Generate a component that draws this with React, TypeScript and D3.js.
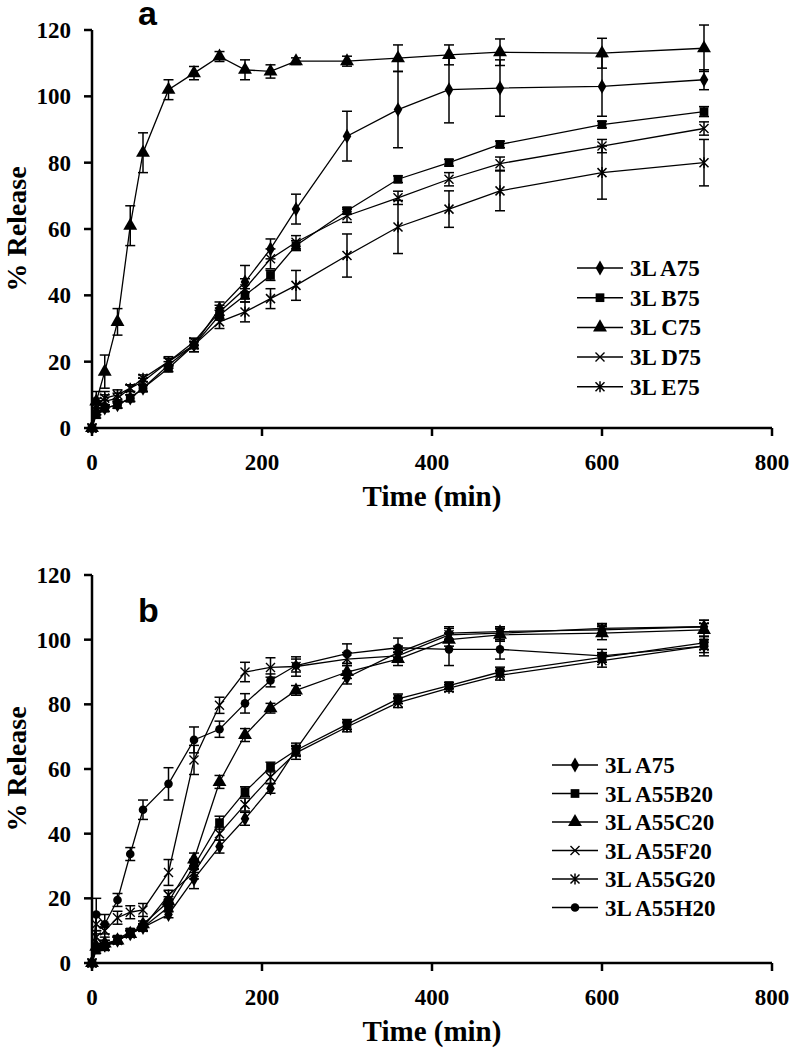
import React from "react";
import * as d3 from "d3";

// ---------- data ----------
const times = [0, 5, 15, 30, 45, 60, 90, 120, 150, 180, 210, 240, 300, 360, 420, 480, 600, 720];
const xTicks = [0, 200, 400, 600, 800];
const yTicks = [0, 20, 40, 60, 80, 100, 120];

// Panel a
const aNames = ["3L A75", "3L B75", "3L C75", "3L D75", "3L E75"];
const aMarkers = ["diamond", "square", "triangle", "x", "asterisk"];
const aA75 = [0, 5, 6, 7, 9, 12, 19, 25, 36, 44, 54, 66, 88, 96, 102, 102.5, 103, 105];
const aA75err = [0, 1, 1, 1, 1, 1, 1, 2, 2, 5, 3, 4.5, 7.5, 11.5, 10, 8.5, 9, 3];
const aB75 = [0, 4, 6, 7, 9, 12, 18, 25, 34, 40, 46, 55, 65.5, 75, 80, 85.5, 91.5, 95.4];
const aB75err = [0, 1, 1, 1, 1, 1, 1, 1, 1.5, 2, 1.5, 1.5, 1, 1, 1, 1, 1, 1.5];
const aC75 = [0, 8, 17, 32, 61, 83, 102, 107, 112, 108, 107.5, 110.6, 110.6, 111.5, 112.5, 113.3, 113, 114.5];
const aC75err = [0, 3, 5, 4, 6, 6, 3, 2, 1.5, 3, 2, 1, 1.5, 4, 3, 4, 4.5, 7];
const aD75 = [0, 6, 8, 9, 12, 14, 20, 26, 35, 42, 51, 56, 64, 69.4, 75, 79.7, 85, 90.3];
const aD75err = [0, 2, 2, 1.5, 1, 1, 1, 1, 2, 3, 3, 2, 2, 2, 2, 2, 2, 2];
const aE75 = [0, 7, 9, 10, 12, 15, 20, 25, 32, 35, 39, 43, 52, 60.6, 66, 71.5, 77, 80];
const aE75err = [0, 2, 2, 1.5, 1, 1, 1.5, 2, 2, 3, 3, 4.5, 6.5, 8, 5.5, 6, 8, 7];

// Panel b
const bNames = ["3L A75", "3L A55B20", "3L A55C20", "3L A55F20", "3L A55G20", "3L A55H20"];
const bMarkers = ["diamond", "square", "triangle", "x", "asterisk", "circle"];
const bA75 = [0, 5, 6, 7, 9, 11, 15, 26, 36, 44.6, 54, 66, 88.3, 96, 102, 102.5, 103, 104];
const bA75err = [0, 1, 1, 1, 1, 1, 1, 3, 2, 2, 1.5, 2, 2, 2, 2, 1.5, 1.5, 2];
const bB20 = [0, 4, 5, 7.4, 9.6, 11, 17.3, 30, 43.4, 53, 60.6, 65.8, 73.8, 81.7, 85.8, 90, 94.5, 99];
const bB20err = [0, 1, 1, 1, 1, 1, 1.5, 2, 2, 1.5, 1.5, 1.5, 1.5, 1.5, 1, 1.5, 1.5, 2];
const bC20 = [0, 5, 6, 7, 9, 12, 19, 32, 56, 70.5, 78.8, 84.3, 90, 94, 100, 101.5, 102, 103];
const bC20err = [0, 1, 1, 1, 1, 1, 1.5, 2, 2, 2, 1.5, 1.5, 2, 2, 2, 2, 2, 2];
const bF20 = [0, 12, 10, 14, 15.7, 16.4, 28, 62.8, 79.7, 90, 91.4, 91.7, 94, 95, 101.5, 102, 103.5, 104];
const bF20err = [0, 3, 2, 2, 2, 2, 4, 4.5, 2.5, 3, 3, 3, 2, 2, 2, 2, 1.5, 2];
const bG20 = [0, 8, 5, 7, 9, 11, 21, 28, 40, 49, 57.5, 65, 73, 80.5, 85, 89, 93.5, 98];
const bG20err = [0, 2, 1, 1, 1, 1, 1.5, 2, 2, 2, 2, 2, 1.5, 1.5, 1, 1.5, 2, 2];
const bH20 = [0, 15, 12, 19.5, 33.7, 47.4, 55.4, 69, 72.3, 80.3, 87.4, 92, 95.7, 97.5, 97, 97, 95, 98];
const bH20err = [0, 5, 3, 2, 2, 3, 5, 4, 2.5, 3, 2, 2, 3, 3, 5, 3, 2, 3];

const aSeries = [
  [aA75, aA75err], [aB75, aB75err], [aC75, aC75err], [aD75, aD75err], [aE75, aE75err],
];
const bSeries = [
  [bA75, bA75err], [bB20, bB20err], [bC20, bC20err], [bF20, bF20err], [bG20, bG20err], [bH20, bH20err],
];

const SERIF = "'Liberation Serif', 'Times New Roman', serif";
const SANS = "'Liberation Sans', Arial, sans-serif";

function Marker({ type, x, y }: { type: string; x: number; y: number }) {
  const t = `translate(${x},${y})`;
  if (type === "x") {
    const s = 4.5;
    return (
      <path transform={t} d={`M${-s},${-s}L${s},${s}M${-s},${s}L${s},${-s}`} stroke="#000" strokeWidth={1.4} fill="none" />
    );
  }
  if (type === "asterisk") {
    const s = 4.5;
    return (
      <path transform={t} d={`M${-s},${-s}L${s},${s}M${-s},${s}L${s},${-s}M0,${-s - 1}L0,${s + 1}`} stroke="#000" strokeWidth={1.5} fill="none" />
    );
  }
  const symMap: Record<string, [d3.SymbolType, number]> = {
    diamond: [d3.symbolDiamond, 64],
    square: [d3.symbolSquare, 76],
    triangle: [d3.symbolTriangle, 84],
    circle: [d3.symbolCircle, 58],
  };
  const [sym, size] = symMap[type];
  const d = d3.symbol().type(sym).size(size)() as string;
  return <path transform={t} d={d} fill="#000" stroke="none" />;
}

function Panel({
  series, markers, names, y0, y120, letter, letterY, legendX, legendY, legendStep, xLabelY,
}: {
  series: number[][][]; markers: string[]; names: string[]; y0: number; y120: number;
  letter: string; letterY: number; legendX: number; legendY: number; legendStep: number; xLabelY: number;
}) {
  const x = d3.scaleLinear().domain([0, 800]).range([92, 772]);
  const y = d3.scaleLinear().domain([0, 120]).range([y0, y120]);
  const line = d3.line<number>().x((_, i) => x(times[i])).y((v) => y(v));
  return (
    <g>
      {/* data */}
      {series.map(([vals, errs], si) => (
        <g key={si}>
          <path d={line(vals) as string} fill="none" stroke="#000" strokeWidth={1.3} />
          {vals.map((v, i) =>
            errs[i] > 0 ? (
              <g key={i} stroke="#000" strokeWidth={1.5}>
                <line x1={x(times[i])} x2={x(times[i])} y1={y(v - errs[i])} y2={y(v + errs[i])} />
                <line x1={x(times[i]) - 5} x2={x(times[i]) + 5} y1={y(v - errs[i])} y2={y(v - errs[i])} />
                <line x1={x(times[i]) - 5} x2={x(times[i]) + 5} y1={y(v + errs[i])} y2={y(v + errs[i])} />
              </g>
            ) : null
          )}
          {vals.map((v, i) => (
            <Marker key={"m" + i} type={markers[si]} x={x(times[i])} y={y(v)} />
          ))}
        </g>
      ))}
      {/* axes */}
      <line x1={x(0)} x2={x(800)} y1={y0} y2={y0} stroke="#000" strokeWidth={2.5} />
      <line x1={x(0)} x2={x(0)} y1={y0 + 1} y2={y(120)} stroke="#000" strokeWidth={2.5} />
      {xTicks.map((t) => (
        <g key={"xt" + t}>
          <line x1={x(t)} x2={x(t)} y1={y0} y2={y0 + 8} stroke="#000" strokeWidth={2.5} />
          <text x={x(t)} y={xLabelY} textAnchor="middle" fontFamily={SERIF} fontWeight="bold" fontSize={23}>
            {t}
          </text>
        </g>
      ))}
      {yTicks.map((t) => (
        <g key={"yt" + t}>
          <line x1={x(0) - 8} x2={x(0)} y1={y(t)} y2={y(t)} stroke="#000" strokeWidth={2.5} />
          <text x={71} y={y(t) + 8} textAnchor="end" fontFamily={SERIF} fontWeight="bold" fontSize={23}>
            {t}
          </text>
        </g>
      ))}
      <text
        transform={`translate(26,${(y0 + y(120)) / 2}) rotate(-90)`}
        textAnchor="middle"
        fontFamily={SERIF}
        fontWeight="bold"
        fontSize={28}
      >
        % Release
      </text>
      <text x={432} y={xLabelY + 36} textAnchor="middle" fontFamily={SERIF} fontWeight="bold" fontSize={29}>
        Time (min)
      </text>
      <text x={138} y={letterY} fontFamily={SANS} fontWeight="bold" fontSize={34}>
        {letter}
      </text>
      {/* legend */}
      {names.map((n, i) => {
        const ly = legendY + i * legendStep;
        return (
          <g key={"lg" + i}>
            <line x1={legendX} x2={legendX + 46} y1={ly} y2={ly} stroke="#000" strokeWidth={1.5} />
            <Marker type={markers[i]} x={legendX + 23} y={ly} />
            <text x={legendX + 53} y={ly + 8} fontFamily={SERIF} fontWeight="bold" fontSize={23}>
              {n}
            </text>
          </g>
        );
      })}
    </g>
  );
}

export default function App() {
  return (
    <svg
      width={793}
      height={1060}
      viewBox="0 0 793 1060"
      style={{ position: "absolute", left: 0, top: 0, background: "#fff" }}
    >
      <rect width={793} height={1060} fill="#fff" />
      <Panel
        series={aSeries}
        markers={aMarkers}
        names={aNames}
        y0={428}
        y120={30}
        letter="a"
        letterY={25}
        legendX={577}
        legendY={268}
        legendStep={29.7}
        xLabelY={470}
      />
      <Panel
        series={bSeries}
        markers={bMarkers}
        names={bNames}
        y0={963}
        y120={575}
        letter="b"
        letterY={622}
        legendX={552}
        legendY={765}
        legendStep={28.5}
        xLabelY={1005}
      />
    </svg>
  );
}
